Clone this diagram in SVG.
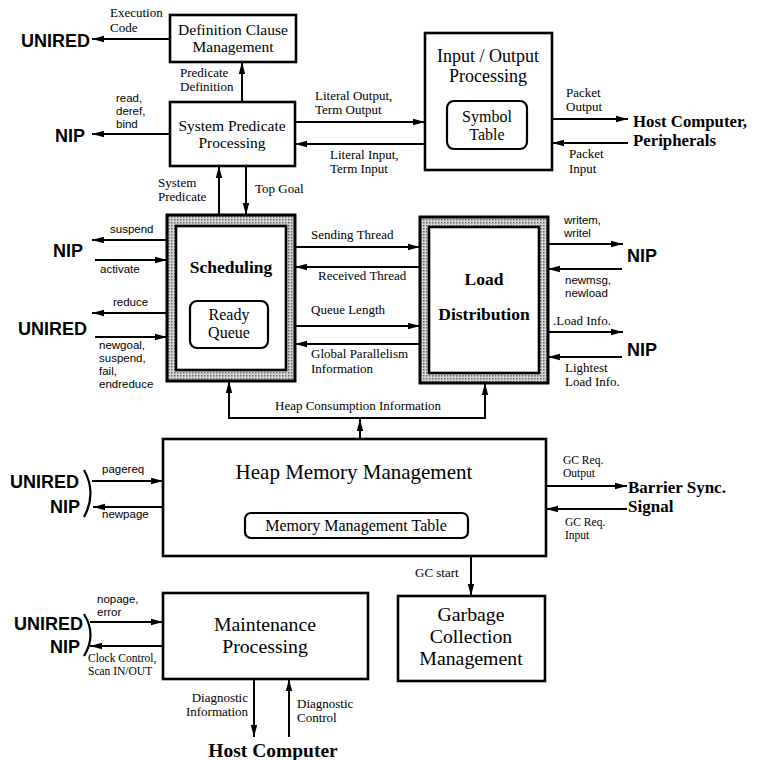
<svg xmlns="http://www.w3.org/2000/svg" width="761" height="760" viewBox="0 0 761 760">
<style>
.box{fill:#fff;stroke:#000;stroke-width:2.6}
.rr{fill:#fff;stroke:#000;stroke-width:2.2}
.hb{fill:url(#dots);stroke:#000;stroke-width:3}
.c{fill:none;stroke:#000;stroke-width:2;marker-end:url(#ah)}
.cn{fill:none;stroke:#000;stroke-width:2}
.br{fill:none;stroke:#000;stroke-width:2.2}
text{fill:#000}
.l{font-family:"Liberation Serif","Times New Roman",serif;font-size:13px}
.ls{font-family:"Liberation Serif","Times New Roman",serif;font-size:11.5px}
.s{font-family:"Liberation Sans",Arial,sans-serif;font-size:11.5px}
.x{font-family:"Liberation Sans",Arial,sans-serif;font-size:18px;font-weight:bold}
.xs{font-family:"Liberation Serif","Times New Roman",serif;font-size:17px;font-weight:bold}
.t16{font-family:"Liberation Serif","Times New Roman",serif;font-size:15.5px;text-anchor:middle}
.t19{font-family:"Liberation Serif","Times New Roman",serif;font-size:18px;text-anchor:middle}
.t21{font-family:"Liberation Serif","Times New Roman",serif;font-size:21px;text-anchor:middle}
.t20{font-family:"Liberation Serif","Times New Roman",serif;font-size:19.8px;text-anchor:middle}
.tb{font-family:"Liberation Serif","Times New Roman",serif;font-size:17.5px;font-weight:bold;text-anchor:middle}
.e{text-anchor:end}
.m{text-anchor:middle}
</style>
<defs>
<pattern id="dots" width="3" height="3" patternUnits="userSpaceOnUse">
<rect width="3" height="3" fill="#d4d4d4"/>
<rect width="1.5" height="1.5" fill="#666"/>
</pattern>
<marker id="ah" markerUnits="userSpaceOnUse" markerWidth="13" markerHeight="8" refX="12" refY="4" orient="auto">
<path d="M0,0.8 L12,4 L0,7.2 Z" fill="#000"/>
</marker>
</defs>
<rect width="761" height="760" fill="#fff"/>

<g id="connectors">
<line class="c" x1="170" y1="39" x2="92" y2="39"/>
<line class="c" x1="242" y1="102" x2="242" y2="62"/>
<line class="c" x1="170" y1="134" x2="92" y2="134"/>
<line class="c" x1="295" y1="122" x2="425" y2="122"/>
<line class="c" x1="425" y1="144" x2="295" y2="144"/>
<line class="c" x1="552" y1="119" x2="628" y2="119"/>
<line class="c" x1="628" y1="143" x2="552" y2="143"/>
<line class="c" x1="219" y1="215" x2="219" y2="166"/>
<line class="c" x1="246" y1="166" x2="246" y2="215"/>
<line class="c" x1="167" y1="240" x2="92" y2="240"/>
<line class="c" x1="95" y1="260" x2="167" y2="260"/>
<line class="c" x1="167" y1="313" x2="92" y2="313"/>
<line class="c" x1="95" y1="337" x2="167" y2="337"/>
<line class="c" x1="295" y1="247" x2="420" y2="247"/>
<line class="c" x1="420" y1="267" x2="295" y2="267"/>
<line class="c" x1="295" y1="326" x2="420" y2="326"/>
<line class="c" x1="420" y1="344" x2="295" y2="344"/>
<line class="c" x1="548" y1="244" x2="623" y2="244"/>
<line class="c" x1="622" y1="269" x2="548" y2="269"/>
<line class="c" x1="548" y1="332" x2="623" y2="332"/>
<line class="c" x1="622" y1="357" x2="548" y2="357"/>
<line class="cn" x1="228" y1="418" x2="486" y2="418"/>
<line class="c" x1="229" y1="418" x2="229" y2="381"/>
<line class="c" x1="485" y1="418" x2="485" y2="383"/>
<line class="c" x1="360" y1="440" x2="360" y2="419"/>
<line class="c" x1="92" y1="481" x2="163" y2="481"/>
<line class="c" x1="163" y1="507" x2="93" y2="507"/>
<line class="c" x1="546" y1="486" x2="627" y2="486"/>
<line class="c" x1="627" y1="509" x2="546" y2="509"/>
<line class="c" x1="471" y1="556" x2="471" y2="596"/>
<line class="c" x1="90" y1="622" x2="163" y2="622"/>
<line class="c" x1="163" y1="646" x2="90" y2="646"/>
<line class="c" x1="254" y1="679" x2="254" y2="737"/>
<line class="c" x1="289" y1="737" x2="289" y2="679"/>
<path class="br" d="M84,470 Q97,493 84,517"/>
<path class="br" d="M84,614 Q97,635 84,656"/>
</g>

<g id="labels">
<text class="l" x="110" y="17">Execution</text>
<text class="l" x="110" y="31.5">Code</text>
<text class="l" x="180" y="76.5">Predicate</text>
<text class="l" x="180" y="91">Definition</text>
<text class="s" x="116" y="102">read,</text>
<text class="s" x="116" y="115">deref,</text>
<text class="s" x="116" y="128">bind</text>
<text class="l" x="315" y="99.5">Literal Output,</text>
<text class="l" x="315" y="114">Term Output</text>
<text class="l" x="330" y="158.5">Literal Input,</text>
<text class="l" x="330" y="173">Term Input</text>
<text class="l" x="566" y="96.5">Packet</text>
<text class="l" x="566" y="111">Output</text>
<text class="l" x="569" y="158">Packet</text>
<text class="l" x="569" y="172.5">Input</text>
<text class="l" x="158" y="186.5">System</text>
<text class="l" x="158" y="201">Predicate</text>
<text class="l" x="255" y="193">Top Goal</text>
<text class="s" x="110" y="233">suspend</text>
<text class="s" x="100" y="273">activate</text>
<text class="s" x="113" y="306">reduce</text>
<text class="s" x="99" y="349">newgoal,</text>
<text class="s" x="99" y="362">suspend,</text>
<text class="s" x="99" y="375">fail,</text>
<text class="s" x="99" y="388">endreduce</text>
<text class="l" x="311" y="239">Sending Thread</text>
<text class="l" x="318" y="280">Received Thread</text>
<text class="l" x="311" y="314">Queue Length</text>
<text class="l" x="311" y="358">Global Parallelism</text>
<text class="l" x="311" y="372.5">Information</text>
<text class="s" x="564" y="224">writem,</text>
<text class="s" x="564" y="237">writel</text>
<text class="s" x="565" y="284">newmsg,</text>
<text class="s" x="565" y="297">newload</text>
<text class="l" x="553" y="325">.Load Info.</text>
<text class="l" x="565" y="371.5">Lightest</text>
<text class="l" x="565" y="386">Load Info.</text>
<text class="l" x="275" y="410">Heap Consumption Information</text>
<text class="s" x="102" y="473">pagereq</text>
<text class="s" x="102" y="518">newpage</text>
<text class="ls" x="563" y="464">GC Req.</text>
<text class="ls" x="563" y="477">Output</text>
<text class="ls" x="565" y="526">GC Req.</text>
<text class="ls" x="565" y="539">Input</text>
<text class="l" x="415" y="577">GC start</text>
<text class="s" x="97" y="603">nopage,</text>
<text class="s" x="97" y="616">error</text>
<text class="ls" x="88" y="662">Clock Control,</text>
<text class="ls" x="88" y="675">Scan IN/OUT</text>
<text class="l e" x="248" y="701.5">Diagnostic</text>
<text class="l e" x="248" y="716">Information</text>
<text class="l" x="297" y="707.5">Diagnostic</text>
<text class="l" x="297" y="722">Control</text>
</g>

<g id="externals">
<text class="x e" x="90" y="47">UNIRED</text>
<text class="x e" x="85" y="142">NIP</text>
<text class="x e" x="83" y="257">NIP</text>
<text class="x e" x="87" y="335">UNIRED</text>
<text class="x" x="627" y="262">NIP</text>
<text class="x" x="627" y="356">NIP</text>
<text class="x e" x="79" y="488">UNIRED</text>
<text class="x e" x="80" y="513">NIP</text>
<text class="x e" x="83" y="630">UNIRED</text>
<text class="x e" x="80" y="653">NIP</text>
<text class="xs" x="633" y="127" style="font-size:16.8px">Host Computer,</text>
<text class="xs" x="633" y="145.5" style="font-size:16.8px">Peripherals</text>
<text class="xs" x="628" y="492.5">Barrier Sync.</text>
<text class="xs" x="628" y="512">Signal</text>
<text class="xs" x="273" y="757" style="font-size:19.5px;text-anchor:middle">Host Computer</text>
</g>

<g id="definition-clause-management">
<rect class="box" x="170" y="15" width="126" height="47"/>
<text class="t16" x="233" y="34.5">Definition Clause</text>
<text class="t16" x="233" y="51.5">Management</text>
</g>

<g id="system-predicate-processing">
<rect class="box" x="170" y="102" width="125" height="64"/>
<text class="t16" x="232" y="130.5">System Predicate</text>
<text class="t16" x="232" y="148">Processing</text>
</g>

<g id="input-output-processing">
<rect class="box" x="425" y="33" width="127" height="137"/>
<text class="t19" x="488" y="62">Input / Output</text>
<text class="t19" x="488" y="82">Processing</text>
<g id="symbol-table">
<rect class="rr" x="447" y="101" width="80" height="48" rx="7"/>
<text class="t16" x="487" y="121.5" style="font-size:16px">Symbol</text>
<text class="t16" x="487" y="139.5" style="font-size:16px">Table</text>
</g>
</g>

<g id="scheduling">
<rect class="hb" x="167" y="215" width="128" height="166"/>
<rect class="box" x="176" y="226" width="110" height="144"/>
<text class="tb" x="231" y="273">Scheduling</text>
<g id="ready-queue">
<rect class="rr" x="190" y="301" width="78" height="47" rx="7"/>
<text class="t16" x="229" y="320" style="font-size:16px">Ready</text>
<text class="t16" x="229" y="338" style="font-size:16px">Queue</text>
</g>
</g>

<g id="load-distribution">
<rect class="hb" x="420" y="217" width="128" height="166"/>
<rect class="box" x="429" y="227" width="110" height="146"/>
<text class="tb" x="484" y="285">Load</text>
<text class="tb" x="484" y="320">Distribution</text>
</g>

<g id="heap-memory-management">
<rect class="box" x="163" y="439" width="383" height="117"/>
<text class="t21" x="354" y="479">Heap Memory Management</text>
<g id="memory-management-table">
<rect class="rr" x="245" y="513" width="223" height="25" rx="6"/>
<text class="t16" x="356" y="531" style="font-size:16px">Memory Management Table</text>
</g>
</g>

<g id="maintenance-processing">
<rect class="box" x="163" y="593" width="205" height="86"/>
<text class="t20" x="265" y="631">Maintenance</text>
<text class="t20" x="265" y="653">Processing</text>
</g>

<g id="garbage-collection-management">
<rect class="box" x="398" y="596" width="147" height="85"/>
<text class="t20" x="471" y="621">Garbage</text>
<text class="t20" x="471" y="643">Collection</text>
<text class="t20" x="471" y="665">Management</text>
</g>
</svg>
